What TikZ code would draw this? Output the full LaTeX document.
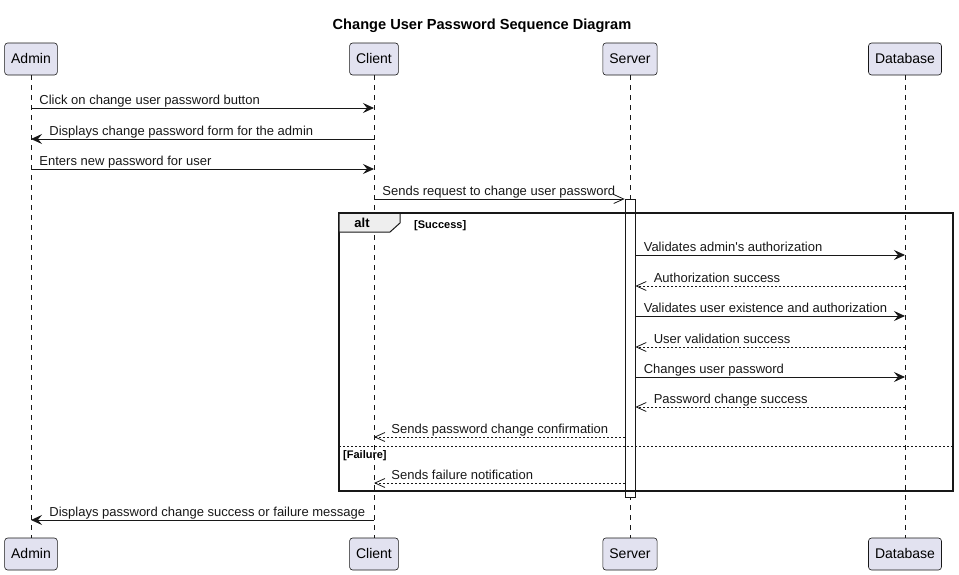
\documentclass[tikz,border=0pt]{standalone}
\usepackage{fontspec}
\setmainfont{Liberation Sans}
\usetikzlibrary{calc,positioning,arrows.meta}

\definecolor{partfill}{HTML}{E2E2F0}
\definecolor{umlline}{HTML}{181818}
\definecolor{tabfill}{HTML}{EEEEEE}

\tikzset{
  partbox/.style={draw=umlline,fill=partfill,rounded corners=3pt,line width=0.6pt,
    minimum height=32pt,inner xsep=6.5pt,text height=10pt,text depth=1pt,
    font=\fontsize{14}{16}\selectfont},
  lifeline/.style={umlline,line width=0.5pt,dash pattern=on 5pt off 5pt},
  actbox/.style={draw=umlline,fill=white,line width=0.7pt,minimum width=10pt,inner sep=0pt},
  syncmsg/.style={umlline,line width=0.9pt,-{Stealth[length=11pt,width=10pt,inset=4pt]}},
  asyncmsg/.style={umlline,line width=0.9pt,-{Straight Barb[length=10pt,width=9pt,line width=0.8pt]}},
  replymsg/.style={umlline,line width=0.9pt,dash pattern=on 2pt off 2pt,
    -{Straight Barb[length=10pt,width=9pt,line width=0.8pt]}},
  msglbl/.style={inner sep=0pt,anchor=base west,yshift=4pt,font=\fontsize{13}{15}\selectfont},
  guardlbl/.style={inner sep=0pt,anchor=base west,font=\fontsize{11}{13}\selectfont\bfseries},
  altframe/.style={umlline,line width=1.6pt}
}

\begin{document}
\begin{tikzpicture}[x=1pt,y=-1pt]
\useasboundingbox (0,0) rectangle (959,574);

% title
\node[font=\fontsize{14.6}{17}\selectfont\bfseries] (title) at (482,26) {Change User Password Sequence Diagram};

% participants
\node[partbox] (admintop) at (31,59) {Admin};
\node[partbox] (clienttop) at (374,59) {Client};
\node[partbox] (servertop) at (630,59) {Server};
\node[partbox] (dbtop) at (905,59) {Database};
\node[partbox] (adminbot) at (31,554) {Admin};
\node[partbox] (clientbot) at (374,554) {Client};
\node[partbox] (serverbot) at (630,554) {Server};
\node[partbox] (dbbot) at (905,554) {Database};

% lifelines
\draw[lifeline] (admintop.south) -- (adminbot.north);
\draw[lifeline] (clienttop.south) -- (clientbot.north);
\draw[lifeline] (servertop.south) -- (serverbot.north);
\draw[lifeline] (dbtop.south) -- (dbbot.north);

% activation of the server
\node[actbox,minimum height=298pt] (act) at (630,348) {};

% alt frame
\draw[altframe] (339,213) rectangle (953,491);
\draw[umlline,line width=1pt,fill=tabfill] (339,213) -- (400,213) -- (400,223) -- (390,232) -- (339,232) -- cycle;
\draw[altframe] (339,213) -- (953,213);
\node[font=\fontsize{13}{15}\selectfont\bfseries] (alttag) at (362,223) {alt};
\node[guardlbl] (success) at (414,228) {[Success]};
\draw[umlline,line width=0.8pt,dash pattern=on 2pt off 2pt] (339,446) -- (953,446);
\node[guardlbl] (failure) at (343,458) {[Failure]};

% message ends
\coordinate (a1) at (admintop |- 0,108);  \coordinate (c1) at (clienttop |- 0,108);
\coordinate (a2) at (admintop |- 0,139);  \coordinate (c2) at (clienttop |- 0,139);
\coordinate (a3) at (admintop |- 0,169);  \coordinate (c3) at (clienttop |- 0,169);
\coordinate (c4) at (clienttop |- 0,199); \coordinate (s4) at (act.west |- 0,199);
\coordinate (s5) at (act.east |- 0,255);  \coordinate (d5) at (dbtop |- 0,255);
\coordinate (s6) at (act.east |- 0,286);  \coordinate (d6) at (dbtop |- 0,286);
\coordinate (s7) at (act.east |- 0,316);  \coordinate (d7) at (dbtop |- 0,316);
\coordinate (s8) at (act.east |- 0,347);  \coordinate (d8) at (dbtop |- 0,347);
\coordinate (s9) at (act.east |- 0,377);  \coordinate (d9) at (dbtop |- 0,377);
\coordinate (s10) at (act.east |- 0,407); \coordinate (d10) at (dbtop |- 0,407);
\coordinate (s11) at (act.west |- 0,437); \coordinate (c11) at (clienttop |- 0,437);
\coordinate (s12) at (act.west |- 0,483); \coordinate (c12) at (clienttop |- 0,483);
\coordinate (c13) at (clienttop |- 0,520); \coordinate (a13) at (admintop |- 0,520);

% messages
\draw[syncmsg] (a1) -- (c1) node[msglbl,pos=0,xshift=8pt] {Click on change user password button};
\draw[syncmsg] (c2) -- (a2) node[msglbl,pos=1,xshift=18pt] {Displays change password form for the admin};
\draw[syncmsg] (a3) -- (c3) node[msglbl,pos=0,xshift=8pt] {Enters new password for user};
\draw[asyncmsg] (c4) -- (s4) node[msglbl,pos=0,xshift=8pt] {Sends request to change user password};
\draw[syncmsg] (s5) -- (d5) node[msglbl,pos=0,xshift=8pt] {Validates admin\textquotesingle s authorization};
\draw[replymsg] (d6) -- (s6) node[msglbl,pos=1,xshift=18pt] {Authorization success};
\draw[syncmsg] (s7) -- (d7) node[msglbl,pos=0,xshift=8pt] {Validates user existence and authorization};
\draw[replymsg] (d8) -- (s8) node[msglbl,pos=1,xshift=18pt] {User validation success};
\draw[syncmsg] (s9) -- (d9) node[msglbl,pos=0,xshift=8pt] {Changes user password};
\draw[replymsg] (d10) -- (s10) node[msglbl,pos=1,xshift=18pt] {Password change success};
\draw[replymsg] (s11) -- (c11) node[msglbl,pos=1,xshift=17pt] {Sends password change confirmation};
\draw[replymsg] (s12) -- (c12) node[msglbl,pos=1,xshift=17pt] {Sends failure notification};
\draw[syncmsg] (c13) -- (a13) node[msglbl,pos=1,xshift=18pt] {Displays password change success or failure message};
\end{tikzpicture}
\end{document}
